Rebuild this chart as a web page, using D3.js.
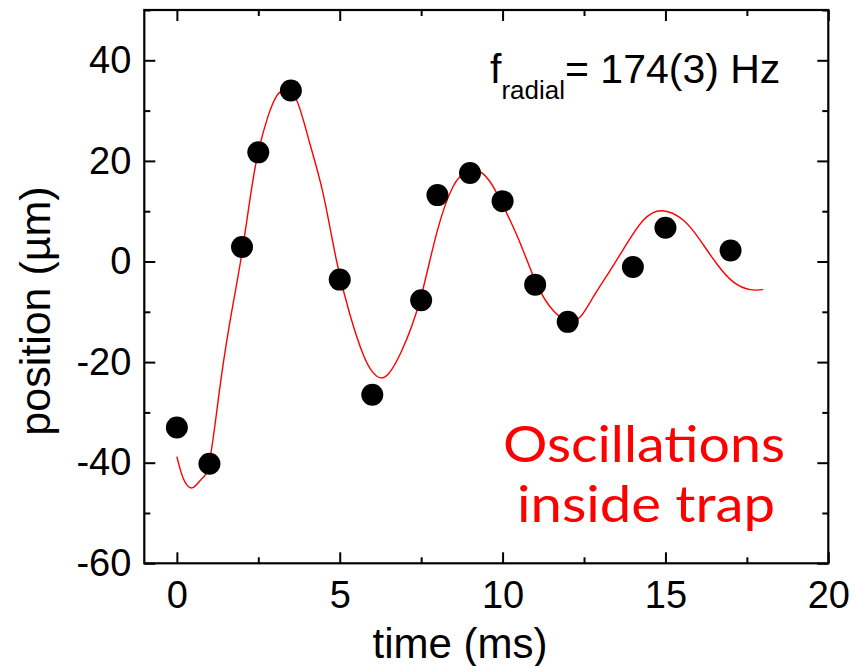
<!DOCTYPE html>
<html>
<head>
<meta charset="utf-8">
<script src="https://cdn.jsdelivr.net/npm/d3@7"></script>
<style>
  body { margin: 0; background: #fff; }
  text { font-family: Arial, "Liberation Sans", sans-serif; }
</style>
</head>
<body>
<script>
var width = 855, height = 666;
var margin = {left: 144.3, right: 855 - 828.3, top: 10, bottom: 666 - 563.3};

// measured points: time (ms), position (µm)
var timeMs = [0, 1, 2, 2.5, 3.5, 5, 6, 7.5, 8, 9, 10, 11, 12, 14, 15, 17];
var positionUm = [-33, -40.2, 2.9, 21.7, 34, -3.6, -26.5, -7.7, 13.2, 17.6, 12, -4.6, -12, -1.1, 6.7, 2.2];

// fit curve
var fitT = [0, 0.2, 0.47, 0.75, 1.0, 1.29, 1.6, 1.96, 2.24, 2.49, 2.8, 3.06, 3.31, 3.67, 4.08, 4.49, 4.9, 5.31, 5.72, 6.0, 6.23, 6.5, 6.9, 7.46, 7.97, 8.48, 8.85, 9.19, 9.6, 10.03, 10.55, 11.05, 11.56, 12.03, 12.4, 12.78, 13.3, 13.81, 14.32, 14.89, 15.55, 16.07, 16.58, 17.09, 17.6, 18.0];
var fitY = [-38.8, -43.2, -45, -43.3, -39.8, -26.5, -13.1, 0.2, 12.2, 21.5, 28.9, 32.9, 34.1, 32.2, 23.5, 13.5, 0.2, -10.5, -18.5, -21.9, -23.1, -22.3, -17.8, -7.8, 5.5, 14.9, 17.6, 18.2, 16, 10.9, 3.5, -4.5, -9.8, -11.8, -10.9, -7.1, -1.8, 3.5, 8.2, 10.1, 8.2, 4.2, -0.5, -4.1, -5.6, -5.6];

var xMajor = [0, 5, 10, 15, 20];
var xMinor = [2.5, 7.5, 12.5, 17.5];
var yMajor = [-60, -40, -20, 0, 20, 40];
var yMinor = [-50, -30, -10, 10, 30, 50];

var svg = d3.select("body").append("svg").attr("width", width).attr("height", height);

var x = d3.scaleLinear().domain([-1, 20]).range([margin.left, width - margin.right]);
var y = d3.scaleLinear().domain([-60, 50]).range([height - margin.bottom, margin.top]);

var fs = 38;
var plain = function(d) { return String(d); };  // hyphen minus, like the original

function styleAxis(g) {
  g.select(".domain").remove();
  g.selectAll("line").attr("stroke", "#000").attr("stroke-width", 2);
  g.selectAll("text").attr("font-size", fs).attr("fill", "#000").attr("font-family", "Arial, 'Liberation Sans', sans-serif");
}

// bottom
svg.append("g").attr("transform", "translate(0," + y(-60) + ")")
  .call(d3.axisBottom(x).tickValues(xMajor).tickSize(-11).tickPadding(18).tickFormat(plain))
  .call(styleAxis);
svg.append("g").attr("transform", "translate(0," + y(-60) + ")")
  .call(d3.axisBottom(x).tickValues(xMinor).tickSize(-6).tickFormat(""))
  .call(styleAxis);
// top
svg.append("g").attr("transform", "translate(0," + y(50) + ")")
  .call(d3.axisTop(x).tickValues(xMajor).tickSize(-11).tickFormat(""))
  .call(styleAxis);
svg.append("g").attr("transform", "translate(0," + y(50) + ")")
  .call(d3.axisTop(x).tickValues(xMinor).tickSize(-6).tickFormat(""))
  .call(styleAxis);
// left
svg.append("g").attr("transform", "translate(" + x(-1) + ",0)")
  .call(d3.axisLeft(y).tickValues(yMajor).tickSize(-11).tickPadding(13).tickFormat(plain))
  .call(styleAxis);
svg.append("g").attr("transform", "translate(" + x(-1) + ",0)")
  .call(d3.axisLeft(y).tickValues(yMinor).tickSize(-6).tickFormat(""))
  .call(styleAxis);
// right
svg.append("g").attr("transform", "translate(" + x(20) + ",0)")
  .call(d3.axisRight(y).tickValues(yMajor).tickSize(-11).tickFormat(""))
  .call(styleAxis);
svg.append("g").attr("transform", "translate(" + x(20) + ",0)")
  .call(d3.axisRight(y).tickValues(yMinor).tickSize(-6).tickFormat(""))
  .call(styleAxis);

// frame
svg.append("rect")
  .attr("x", x(-1)).attr("y", y(50))
  .attr("width", x(20) - x(-1)).attr("height", y(-60) - y(50))
  .attr("fill", "none").attr("stroke", "#000").attr("stroke-width", 2.2);

// fit line
var fit = fitT.map(function(t, i) { return [t, fitY[i]]; });
var line = d3.line().x(function(d) { return x(d[0]); }).y(function(d) { return y(d[1]); })
  .curve(d3.curveNatural);
svg.append("path").datum(fit).attr("d", line)
  .attr("fill", "none").attr("stroke", "#ff0000").attr("stroke-width", 1.4);

// data points
svg.selectAll("circle.pt").data(timeMs).enter().append("circle")
  .attr("class", "pt")
  .attr("cx", function(d) { return x(d); })
  .attr("cy", function(d, i) { return y(positionUm[i]); })
  .attr("r", 11).attr("fill", "#000");

// axis titles
svg.append("text").attr("x", 460).attr("y", 658).attr("text-anchor", "middle")
  .attr("font-size", 42).text("time (ms)");
svg.append("text").attr("transform", "translate(50," + 311 + ") rotate(-90)")
  .attr("text-anchor", "middle").attr("font-size", 43).text("position (µm)");

// frequency label
var ft = svg.append("text").attr("x", 490).attr("y", 83).attr("font-size", 41);
ft.append("tspan").text("f");
ft.append("tspan").attr("font-size", 26).attr("dy", 16).text("radial");
ft.append("tspan").attr("dy", -16).text("= 174(3) Hz");

// annotation
var note = svg.append("g").attr("fill", "#ff0000").attr("font-size", 50);
note.append("text").attr("x", 503).attr("y", 462).attr("textLength", 282)
  .attr("lengthAdjust", "spacingAndGlyphs").style("font-family", "'Comic Sans MS', Lato, sans-serif").text("Oscillations");
note.append("text").attr("x", 517).attr("y", 522).attr("textLength", 258)
  .attr("lengthAdjust", "spacingAndGlyphs").style("font-family", "'Comic Sans MS', Lato, sans-serif").text("inside trap");
</script>
</body>
</html>
